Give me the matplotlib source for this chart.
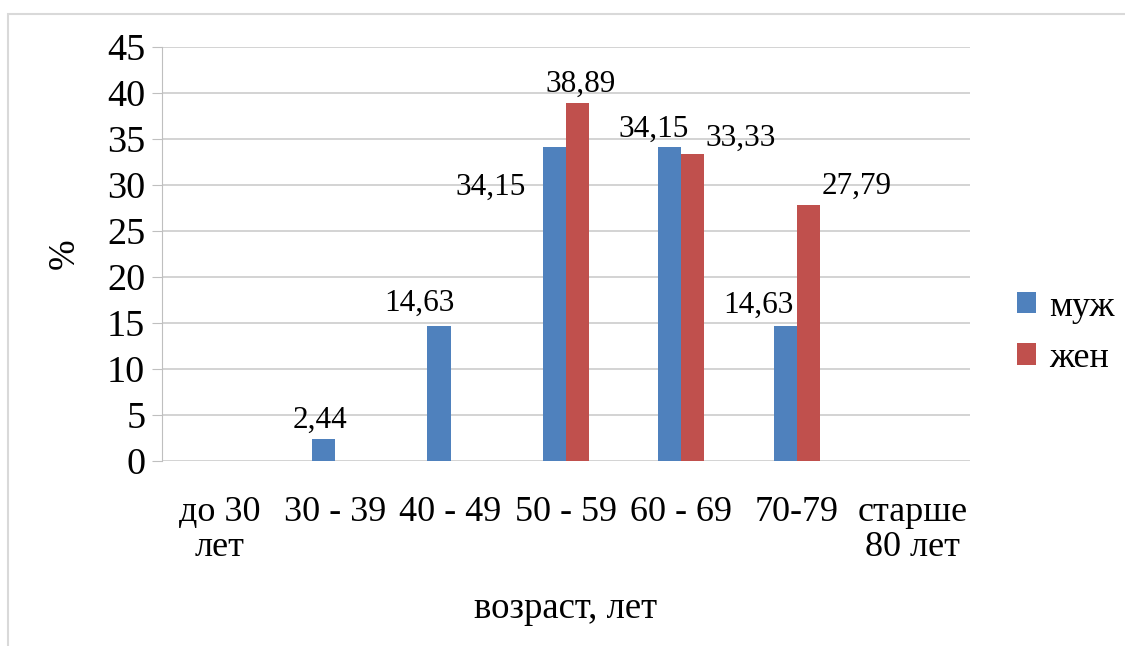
import numpy as np
from matplotlib import pyplot as plt
from matplotlib.patches import Rectangle

categories = ["до 30\nлет", "30 - 39", "40 - 49", "50 - 59", "60 - 69", "70-79", "старше\n80 лет"]
men = [0, 2.44, 14.63, 34.15, 34.15, 14.63, 0]
women = [0, 0, 0, 38.89, 33.33, 27.79, 0]
men_labels = ["", "2,44", "14,63", "34,15", "34,15", "14,63", ""]
women_labels = ["", "", "", "38,89", "33,33", "27,79", ""]
# label offsets from bar top (points), as placed in the original
men_offsets = [(0, 0), (-2.5, 8), (-14, 11), (-46, -34.5), (-11.5, 7), (-19, 10), (0, 0)]
women_offsets = [(0, 0), (0, 0), (0, 0), (2.5, 8), (34.5, 6), (35, 8), (0, 0)]

plt.rcParams['font.family'] = ['Liberation Serif', 'DejaVu Serif']

fig = plt.figure(figsize=(11.25, 6.46), dpi=100)
ax = fig.add_axes([0.144, 0.2864, 0.7182, 0.6408])

# outer chart border
fig.patches.append(Rectangle((8 / 1125, -0.1), 1.2, 1 - 14 / 646 + 0.1,
                             transform=fig.transFigure, fill=False,
                             edgecolor='#D9D9D9', linewidth=1.5))

x = np.arange(len(categories))
w = 0.2
b1 = ax.bar(x - w / 2, men, w, color='#4F81BD', label='муж')
b2 = ax.bar(x + w / 2, women, w, color='#C0504D', label='жен')

for bars, labels, offs in [(b1, men_labels, men_offsets), (b2, women_labels, women_offsets)]:
    for rect, lab, off in zip(bars, labels, offs):
        if lab:
            ax.annotate(lab, (rect.get_x() + rect.get_width() / 2, rect.get_height()),
                        xytext=off, textcoords='offset points',
                        ha='center', va='baseline', fontsize=22.5)

ax.set_xlim(-0.5, len(categories) - 0.5)
ax.set_ylim(0, 45)
ax.set_yticks(np.arange(0, 46, 5))
ax.set_xticks(x)
ax.set_xticklabels(categories, fontsize=26, linespacing=1.1)
ax.tick_params(axis='x', length=0, pad=25)
ax.tick_params(axis='y', labelsize=27.5, length=7, color='#BFBFBF', pad=5)
ax.grid(axis='y', color='#D0D0D0', linewidth=1.3)
ax.set_axisbelow(True)
for s in ['top', 'right', 'bottom']:
    ax.spines[s].set_visible(False)
ax.spines['left'].set_color('#BFBFBF')

ax.set_xlabel("возраст, лет", fontsize=26.5, labelpad=20)
ax.set_ylabel("%", fontsize=26.5, labelpad=18)

ax.legend(loc='center left', bbox_to_anchor=(1.018, 0.31), frameon=False,
          fontsize=26, handlelength=0.53, handleheight=0.53, handletextpad=0.35,
          labelspacing=0.5)

plt.savefig("out.png", dpi=100)
